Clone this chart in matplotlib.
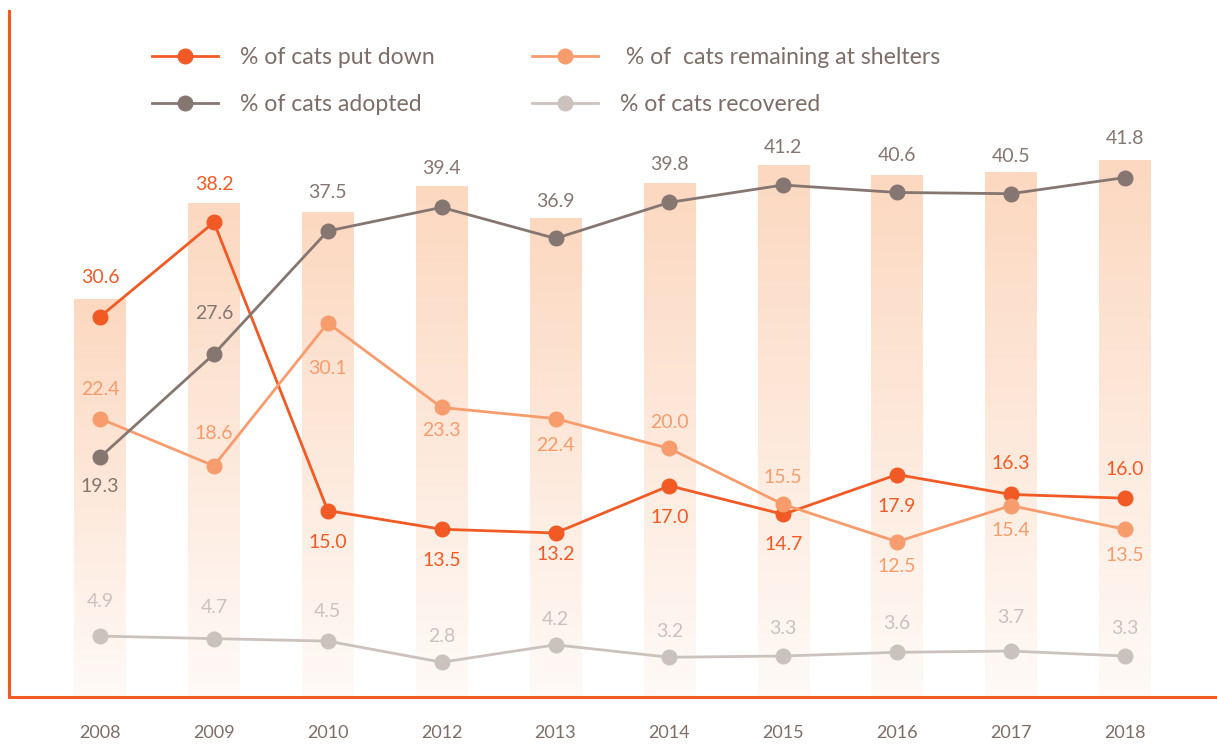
import matplotlib.pyplot as plt
import numpy as np
from matplotlib.colors import to_rgb

plt.rcParams['font.family'] = ['Lato', 'DejaVu Sans']

# values
years = ['2008', '2009', '2010', '2012', '2013', '2014', '2015', '2016', '2017', '2018']
put_down = [30.6, 38.2, 15.0, 13.5, 13.2, 17.0, 14.7, 17.9, 16.3, 16.0]
remaining = [22.4, 18.6, 30.1, 23.3, 22.4, 20.0, 15.5, 12.5, 15.4, 13.5]
adopted = [19.3, 27.6, 37.5, 39.4, 36.9, 39.8, 41.2, 40.6, 40.5, 41.8]
recovered = [4.9, 4.7, 4.5, 2.8, 4.2, 3.2, 3.3, 3.6, 3.7, 3.3]
bar_tops = [32.0, 39.7, 39.0, 41.1, 38.5, 41.3, 42.75, 42.0, 42.2, 43.2]

# label offsets in pixels (+ above, - below)
off_put = [39, 38, -32, -31, -22, -32, -30, -32, 31, 29]
off_rem = [29, 32, -46, -23, -27, 26, 27, -25, -25, -26]
off_ado = [-29, 41, 38, 39, 37, 38, 38, 37, 37, 39]
off_rec = [35, 31, 30, 26, 25, 26, 28, 29, 34, 28]

c_put = '#F15A24'
c_rem = '#F69C6D'
c_ado = '#857671'
c_rec = '#CBC2BE'
c_txt = '#7D6D67'

fig = plt.figure(figsize=(12.17, 7.45), dpi=100)
ax = fig.add_axes([0.0074, 0.0644, 0.9926, 0.9208])

x = np.arange(len(years))
ymax = 55.2

# gradient bars
top_c = np.array(to_rgb('#FCD8C0'))
bot_c = np.array(to_rgb('#FFFAF7'))
t = np.linspace(0, 1, 256)[:, None]
grad = (top_c * (1 - t) + bot_c * t)[:, None, :]
w = 0.45
for xi, h in zip(x, bar_tops):
    ax.imshow(grad, extent=[xi - w / 2, xi + w / 2, 0, h], aspect='auto',
              interpolation='bilinear', zorder=1)

series = [
    (put_down, c_put, '% of cats put down', off_put, 3),
    (remaining, c_rem, ' % of  cats remaining at shelters', off_rem, 4),
    (adopted, c_ado, '% of cats adopted', off_ado, 5),
    (recovered, c_rec, '% of cats recovered', off_rec, 2),
]
handles = {}
for vals, col, lab, offs, z in series:
    ln, = ax.plot(x, vals, color=col, lw=2.0, marker='o', ms=10.5,
                  label=lab, zorder=z)
    handles[lab] = ln
    for xi, v, o in zip(x, vals, offs):
        ax.annotate(f'{v:.1f}', (xi, v), xytext=(0, o * 0.72),
                    textcoords='offset points', ha='center', va='center',
                    fontsize=14, color=col, zorder=6)

ax.set_xlim(-0.80, 9.81)
ax.set_ylim(0, ymax)
ax.set_xticks(x)
ax.set_xticklabels(years, fontsize=13, color=c_txt)
ax.tick_params(axis='x', length=0, pad=20)
ax.set_yticks([])
for s in ['top', 'right']:
    ax.spines[s].set_visible(False)
for s in ['left', 'bottom']:
    ax.spines[s].set_color(c_put)
    ax.spines[s].set_linewidth(2.2)

order = ['% of cats put down', '% of cats adopted',
         ' % of  cats remaining at shelters', '% of cats recovered']
leg = fig.legend([handles[k] for k in order], order, ncol=2, loc='upper left',
                 bbox_to_anchor=(0.1249, 0.937), frameon=False, fontsize=16.6,
                 handlelength=2.85, handletextpad=0.95, columnspacing=4.25,
                 labelspacing=1.12, borderpad=0, borderaxespad=0)
for txt in leg.get_texts():
    txt.set_color(c_txt)

fig.savefig('out.png', dpi=100)
